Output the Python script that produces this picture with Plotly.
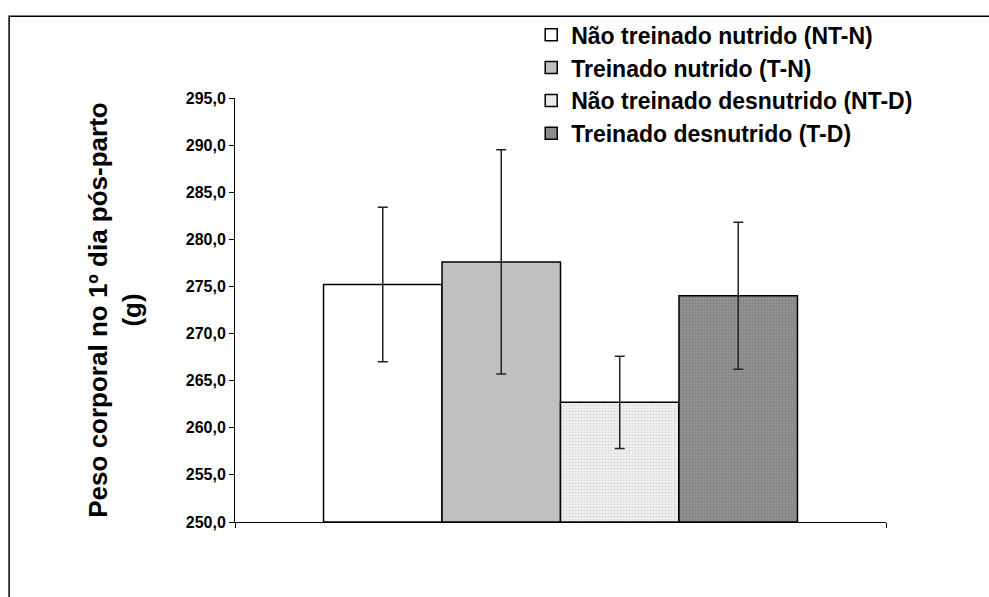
import plotly.graph_objects as go

# Group labels, mean body weight (g) and standard deviations
groups = [
    "Não treinado nutrido (NT-N)",
    "Treinado nutrido (T-N)",
    "Não treinado desnutrido (NT-D)",
    "Treinado desnutrido (T-D)",
]
means = [275.2, 277.6, 262.7, 274.0]
errors = [8.2, 11.9, 4.9, 7.8]

tick_vals = [250, 255, 260, 265, 270, 275, 280, 285, 290, 295]

styles = [
    dict(color="#ffffff", pattern=None),
    dict(color="#c0c0c0", pattern=None),
    dict(color="#eeeeee", pattern=dict(shape=".", fgcolor="#b8b8b8", bgcolor="#f2f2f2", size=3, solidity=0.35)),
    dict(color="#8a8a8a", pattern=dict(shape=".", fgcolor="#6a6a6a", bgcolor="#939393", size=3, solidity=0.35)),
]

FONT = "Liberation Sans, Arial, sans-serif"

fig = go.Figure()
for name, m, e, st in zip(groups, means, errors, styles):
    marker = dict(color=st["color"], line=dict(color="#000000", width=1.5))
    if st["pattern"]:
        marker["pattern"] = st["pattern"]
    fig.add_trace(go.Bar(
        x=[0], y=[m - 250], base=250, name=name,
        marker=marker,
        error_y=dict(type="data", array=[e], color="#222222", thickness=1.5, width=5),
    ))

# Outer frame around the whole chart
fig.add_shape(type="rect", xref="paper", yref="paper",
              x0=-0.347, x1=1.3, y0=-0.4, y1=1.193,
              line=dict(color="#000000", width=1.5), layer="below")

fig.update_layout(
    width=989, height=597,
    margin=dict(l=235, r=103, t=98, b=75),
    paper_bgcolor="#ffffff", plot_bgcolor="#ffffff",
    barmode="group", bargap=0.272, bargroupgap=0,
    separators=",.",
    font=dict(family=FONT, color="#000000"),
    showlegend=True,
    legend=dict(
        x=0.455, y=1.2, xanchor="left", yanchor="top",
        font=dict(family=FONT, size=23, color="#000000", weight="bold"),
        tracegroupgap=0, itemwidth=30, bgcolor="rgba(0,0,0,0)",
    ),
    xaxis=dict(
        range=[-0.5, 0.5], showgrid=False, zeroline=False,
        showline=True, linecolor="#000000", linewidth=1,
        tickmode="array", tickvals=[-0.5, 0.5], ticktext=["", ""],
        ticks="outside", ticklen=5, tickcolor="#000000",
    ),
    yaxis=dict(
        range=[250, 295], showgrid=False, zeroline=False,
        showline=True, linecolor="#000000", linewidth=1,
        tickmode="array", tickvals=tick_vals, tickformat=".1f",
        ticks="outside", ticklen=5, tickcolor="#000000",
        tickfont=dict(family=FONT, size=16, color="#000000", weight="bold"),
        title=dict(text="Peso corporal no 1º dia pós-parto<br>(g)",
                   font=dict(family=FONT, size=26, color="#000000", weight="bold"),
                   standoff=36),
    ),
)

fig.write_html("out.html")
